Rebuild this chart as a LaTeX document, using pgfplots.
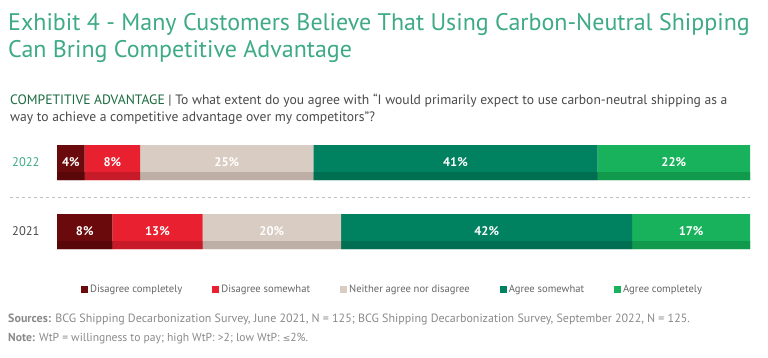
\documentclass[border=0pt]{standalone}
\usepackage{fontspec}
\setmainfont{PT Sans}
\newfontfamily\symfont{DejaVu Sans}
\usepackage{pgfplots}
\pgfplotsset{compat=1.18}
\definecolor{dc}{HTML}{6B0A0C}
\definecolor{ds}{HTML}{E9202F}
\definecolor{ne}{HTML}{D9CCC2}
\definecolor{as}{HTML}{00815F}
\definecolor{ac}{HTML}{19B25C}
\definecolor{dcS}{HTML}{5A0709}
\definecolor{dsS}{HTML}{C81B2A}
\definecolor{neS}{HTML}{BDAFA5}
\definecolor{asS}{HTML}{006F51}
\definecolor{acS}{HTML}{11994C}
\definecolor{titlec}{HTML}{3EAA86}
\definecolor{subc}{HTML}{1B6B3F}
\definecolor{txt}{HTML}{4A4A4A}
\definecolor{srcc}{HTML}{8A8A8A}
\definecolor{leg}{HTML}{666666}

\pgfplotstableread{
x y label
2 1 4\%
8 1 8\%
24.5 1 25\%
57.5 1 41\%
89 1 22\%
4 0 8\%
14.5 0 13\%
31 0 20\%
62 0 42\%
91.5 0 17\%
}\labels

\begin{document}
\begin{tikzpicture}
\fill[white] (0pt,0pt) rectangle (768pt,357pt);
\node[anchor=base west, text=titlec, font=\fontsize{24}{28}\selectfont, inner sep=0] at (8pt,326pt) {Exhibit 4 - Many Customers Believe That Using Carbon-Neutral Shipping};
\node[anchor=base west, text=titlec, font=\fontsize{24}{28}\selectfont, inner sep=0] at (8pt,300pt) {Can Bring Competitive Advantage};
\node[anchor=base west, text=txt, font=\fontsize{13.6}{16}\selectfont, inner sep=0] at (10pt,253pt) {\textcolor{subc}{COMPETITIVE ADVANTAGE} | To what extent do you agree with “I would primarily expect to use carbon-neutral shipping as a};
\node[anchor=base west, text=txt, font=\fontsize{13.6}{16}\selectfont, inner sep=0] at (10pt,236pt) {way to achieve a competitive advantage over my competitors”?};
\draw[gray!50, dash pattern=on 3pt off 3pt] (10pt,160pt) -- (750pt,160pt);
\node[anchor=west, text=titlec, font=\fontsize{12.5}{14}\selectfont, inner sep=0] at (12pt,194.5pt) {2022};
\node[anchor=west, text=txt, font=\fontsize{12.5}{14}\selectfont, inner sep=0] at (12pt,125.5pt) {2021};
\node[anchor=base west, text=srcc, font=\fontsize{12}{14}\selectfont, inner sep=0] at (8pt,35pt) {\textbf{Sources:} BCG Shipping Decarbonization Survey, June 2021, N = 125; BCG Shipping Decarbonization Survey, September 2022, N = 125.};
\node[anchor=base west, text=srcc, font=\fontsize{11.6}{14}\selectfont, inner sep=0] at (8pt,16pt) {\textbf{Note:} WtP = willingness to pay; high WtP:\ >2; low WtP: {\symfont\fontsize{9}{11}\selectfont ≤}2\%.};

% main bars
\begin{axis}[at={(57pt,91pt)}, anchor=south west, width=693pt, height=138pt, scale only axis,
  xmin=0, xmax=100, ymin=-0.5, ymax=1.5, hide axis,
  xbar stacked, bar width=35pt,
  legend style={at={(0.0346,-0.172)}, anchor=west, draw=none, fill=none, inner sep=0pt,
    legend columns=5, font=\fontsize{10.6}{12}\selectfont, text=leg,
    /tikz/every even column/.append style={column sep=28pt}},
  legend cell align=left,
  legend image code/.code={\fill[#1] (0pt,-3.5pt) rectangle (7pt,3.5pt);},
]
\addplot[fill=dc, draw=none] coordinates {(4,1) (8,0)};
\addplot[fill=ds, draw=none] coordinates {(8,1) (13,0)};
\addplot[fill=ne, draw=none] coordinates {(25,1) (20,0)};
\addplot[fill=as, draw=none] coordinates {(41,1) (42,0)};
\addplot[fill=ac, draw=none] coordinates {(22,1) (17,0)};
\legend{Disagree completely, Disagree somewhat, Neither agree nor disagree, Agree somewhat, Agree completely}
\end{axis}

% darker bottom strips
\begin{axis}[at={(57pt,91pt)}, anchor=south west, width=693pt, height=138pt, scale only axis,
  xmin=0, xmax=100, ymin=-0.5, ymax=1.5, hide axis,
  xbar stacked, bar width=8pt, bar shift=-13.5pt]
\addplot[fill=dcS, draw=none] coordinates {(4,1) (8,0)};
\addplot[fill=dsS, draw=none] coordinates {(8,1) (13,0)};
\addplot[fill=neS, draw=none] coordinates {(25,1) (20,0)};
\addplot[fill=asS, draw=none] coordinates {(41,1) (42,0)};
\addplot[fill=acS, draw=none] coordinates {(22,1) (17,0)};
\end{axis}

% value labels
\begin{axis}[at={(57pt,91pt)}, anchor=south west, width=693pt, height=138pt, scale only axis,
  xmin=0, xmax=100, ymin=-0.5, ymax=1.5, hide axis]
\addplot[draw=none, mark=none, nodes near coords, point meta=explicit symbolic,
  every node near coord/.append style={anchor=center, text=white, font=\bfseries\fontsize{12.5}{14}\selectfont}]
  table[x=x, y=y, meta=label] {\labels};
\end{axis}
\end{tikzpicture}
\end{document}
